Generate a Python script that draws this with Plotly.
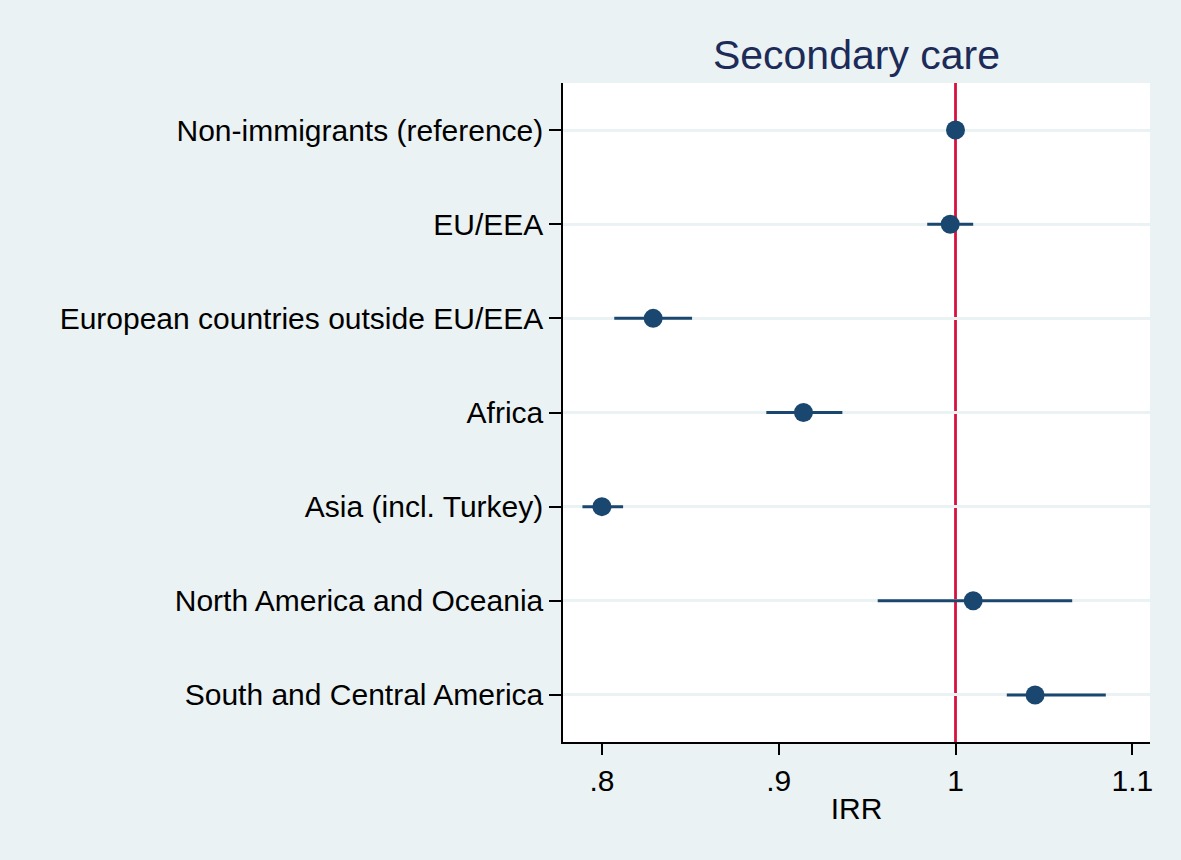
import plotly.graph_objects as go

categories = ["Non-immigrants (reference)", "EU/EEA", "European countries outside EU/EEA",
              "Africa", "Asia (incl. Turkey)", "North America and Oceania",
              "South and Central America"]
irr = [1.000, 0.997, 0.829, 0.914, 0.800, 1.010, 1.045]
ci_low = [1.000, 0.984, 0.807, 0.893, 0.789, 0.956, 1.029]
ci_high = [1.000, 1.010, 0.851, 0.936, 0.812, 1.066, 1.085]
x_ticks = [0.8, 0.9, 1.0, 1.1]
x_ticktext = [".8", ".9", "1", "1.1"]

ypos = list(range(len(categories)))
err_plus = [h - v for h, v in zip(ci_high, irr)]
err_minus = [v - l for v, l in zip(irr, ci_low)]

navy = "#1A476F"
bg = "#EAF2F3"

fig = go.Figure()
fig.add_trace(go.Scatter(
    x=irr, y=ypos, mode="markers",
    marker=dict(color=navy, size=19, line=dict(width=0)),
    error_x=dict(type="data", symmetric=False, array=err_plus, arrayminus=err_minus,
                 color=navy, thickness=3, width=0),
    showlegend=False, hoverinfo="x+y",
))

fig.add_shape(type="line", x0=1, x1=1, xref="x", y0=0, y1=1, yref="paper",
              line=dict(color="#D7103F", width=2.8), layer="below")

fig.update_layout(
    width=1181, height=860,
    paper_bgcolor=bg, plot_bgcolor="white",
    margin=dict(l=563, r=31, t=83, b=118),
    font=dict(family="Liberation Sans, Arial, sans-serif", size=30, color="black"),
    title=dict(text="Secondary care", x=(563 + 1150) / 2 / 1181, xanchor="center",
               y=1 - 55 / 860, yanchor="middle",
               font=dict(size=41, color="#1C2B57")),
    showlegend=False,
)
fig.update_xaxes(
    range=[0.778, 1.110], tickvals=x_ticks, ticktext=x_ticktext,
    showgrid=False, zeroline=False,
    showline=True, linecolor="black", linewidth=1.5,
    ticks="outside", ticklen=11, tickwidth=1.5, tickcolor="black",
    title=dict(text="IRR", font=dict(size=30), standoff=2),
    tickfont=dict(size=30),
)
fig.update_yaxes(
    range=[6.5, -0.5], tickvals=ypos, ticktext=categories,
    showgrid=True, gridcolor=bg, gridwidth=2.5, zeroline=False,
    showline=True, linecolor="black", linewidth=1.5,
    ticks="outside", ticklen=12, tickwidth=1.5, tickcolor="black",
    tickfont=dict(size=30), ticklabelstandoff=0,
)

fig.write_html("out.html", config={"displayModeBar": False},
               post_script="document.body.style.margin='0';document.body.style.background='#EAF2F3';")
